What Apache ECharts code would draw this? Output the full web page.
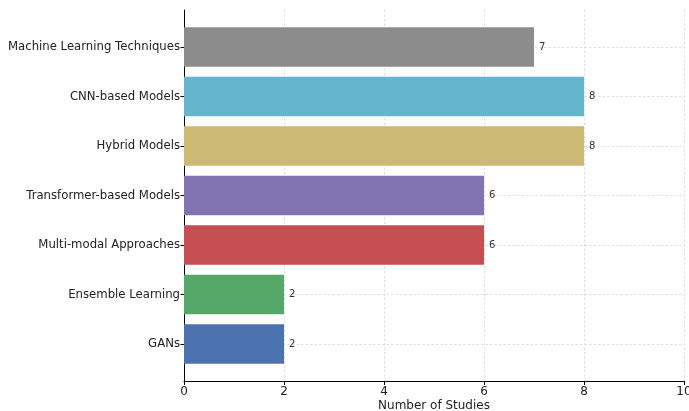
<!DOCTYPE html>
<html>
<head>
<meta charset="utf-8">
<style>
  html, body { margin: 0; padding: 0; background: #fff; }
  #chart { width: 689px; height: 411px; }
</style>
<script src="https://cdn.jsdelivr.net/npm/echarts@6/dist/echarts.min.js"></script>
</head>
<body>
<div id="chart"></div>
<script>
// Study counts per method family, listed top to bottom
const categories = [
  'Machine Learning Techniques',
  'CNN-based Models',
  'Hybrid Models',
  'Transformer-based Models',
  'Multi-modal Approaches',
  'Ensemble Learning',
  'GANs'
];
const studies = [7, 8, 8, 6, 6, 2, 2];
const barColors = ['#8c8c8c', '#64b5cd', '#ccb974', '#8172b2', '#c44e52', '#55a868', '#4c72b0'];
const xTicks = [0, 2, 4, 6, 8, 10];

const FONT = 'DejaVu Sans';
const gridLine = { show: true, lineStyle: { color: '#d6d6d6', width: 0.8, type: [2.5, 2] } };

const chart = echarts.init(document.getElementById('chart'), null, { renderer: 'canvas' });

chart.setOption({
  animation: false,
  backgroundColor: '#fff',
  textStyle: { fontFamily: FONT },
  grid: [
    // frame: spines, x ticks and vertical grid lines
    { left: 184, right: 5, top: 10, bottom: 30, containLabel: false, outerBoundsMode: 'none' },
    // bars: category centres sit on the first and last grid edges
    { left: 184, right: 5, top: 47, bottom: 67, containLabel: false, outerBoundsMode: 'none' }
  ],
  xAxis: [
    {
      gridIndex: 0, type: 'value', min: xTicks[0], max: xTicks[xTicks.length - 1], interval: 2,
      axisLine: { show: true, lineStyle: { color: '#000', width: 1 } },
      axisTick: { show: true, length: 4, lineStyle: { color: '#000' } },
      axisLabel: { color: '#222', fontSize: 12, fontFamily: FONT, margin: 5 },
      splitLine: gridLine,
      name: 'Number of Studies', nameLocation: 'middle', nameGap: 19, nameMoveOverlap: false,
      nameTextStyle: { color: '#222', fontSize: 12, fontFamily: FONT, verticalAlign: 'top' }
    },
    {
      gridIndex: 1, type: 'value', min: xTicks[0], max: xTicks[xTicks.length - 1], interval: 2,
      show: false
    }
  ],
  yAxis: [
    {
      gridIndex: 0, type: 'value', min: 0, max: 1,
      axisLine: { show: true, lineStyle: { color: '#000', width: 1 } },
      axisTick: { show: false }, axisLabel: { show: false }, splitLine: { show: false }
    },
    {
      gridIndex: 1, type: 'category', data: categories, inverse: true, boundaryGap: false,
      axisLine: { show: false },
      axisTick: { show: true, length: 3.5, lineStyle: { color: '#000' } },
      axisLabel: { color: '#222', fontSize: 11.7, fontFamily: FONT, margin: 4 },
      splitLine: gridLine
    }
  ],
  series: [{
    type: 'bar',
    xAxisIndex: 1, yAxisIndex: 1,
    clip: false,
    barWidth: '80%',
    data: studies.map((v, i) => ({ value: v, itemStyle: { color: barColors[i] } })),
    label: {
      show: true, position: 'right', distance: 5,
      color: '#333', fontSize: 10, fontFamily: FONT
    },
    z: 3
  }]
});
</script>
</body>
</html>
